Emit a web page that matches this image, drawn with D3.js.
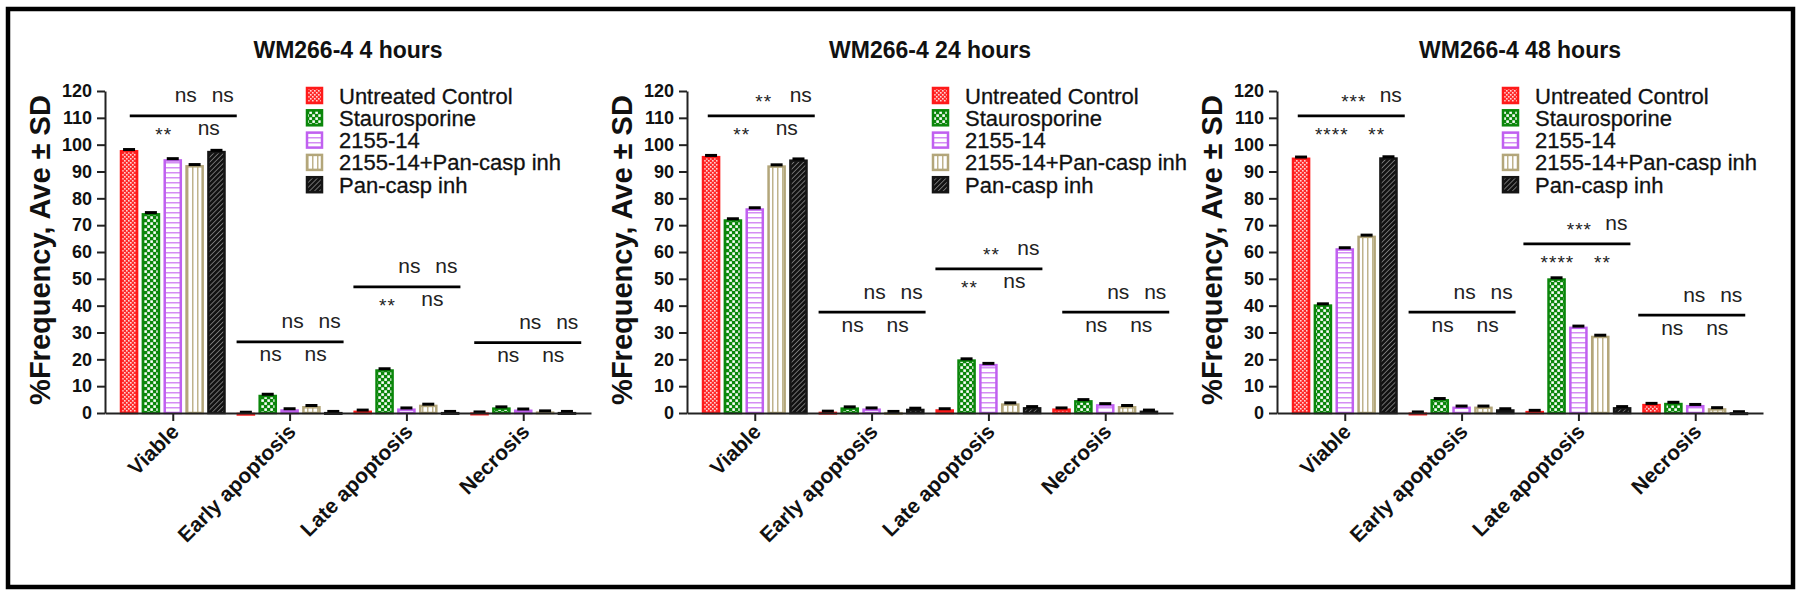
<!DOCTYPE html>
<html><head><meta charset="utf-8">
<script src="https://cdn.jsdelivr.net/npm/d3@7"></script>
<style>
html,body{margin:0;padding:0;background:#fff;}
svg{display:block;}
text{font-family:"Liberation Sans",Arial,Helvetica,sans-serif;}
</style></head><body>
<svg id="chart" width="1800" height="595"></svg>
<script>
// ---------- DATA ----------
const categories = ["Viable", "Early apoptosis", "Late apoptosis", "Necrosis"];
const seriesNames = ["Untreated Control", "Staurosporine", "2155-14", "2155-14+Pan-casp inh", "Pan-casp inh"];
const panelTitles = ["WM266-4 4 hours", "WM266-4 24 hours", "WM266-4 48 hours"];
const yTicks = [0, 10, 20, 30, 40, 50, 60, 70, 80, 90, 100, 110, 120];
const yLabel = "%Frequency, Ave \u00b1 SD";

// values[series][category]
const values4h = [
  [98.0, 0.1, 0.9, 0.2],
  [74.5, 6.8, 16.3, 2.1],
  [94.6, 1.4, 1.7, 1.3],
  [92.4, 2.6, 3.1, 0.6],
  [97.7, 0.4, 0.4, 0.4]
];
const values24h = [
  [95.8, 0.5, 1.4, 1.7],
  [72.2, 2.1, 20.0, 4.8],
  [76.3, 1.7, 18.3, 3.3],
  [92.3, 0.4, 3.6, 2.6],
  [94.5, 1.6, 2.2, 0.9]
];
const values48h = [
  [95.2, 0.2, 0.8, 3.4],
  [40.5, 5.2, 50.2, 3.8],
  [61.4, 2.4, 32.2, 3.0],
  [66.1, 2.4, 28.8, 1.8],
  [95.3, 1.4, 2.2, 0.3]
];

// significance bracket levels (in % units) and labels per category
const sigLevels4h = [110.7, 26.5, 47.0, 26.2];
const sigLevels24h = [110.7, 37.6, 53.7, 37.6];
const sigLevels48h = [110.7, 37.6, 63.0, 36.5];
const sigAbove4h = [["ns", "ns"], ["ns", "ns"], ["ns", "ns"], ["ns", "ns"]];
const sigBelow4h = [["**", "ns"], ["ns", "ns"], ["**", "ns"], ["ns", "ns"]];
const sigAbove24h = [["**", "ns"], ["ns", "ns"], ["**", "ns"], ["ns", "ns"]];
const sigBelow24h = [["**", "ns"], ["ns", "ns"], ["**", "ns"], ["ns", "ns"]];
const sigAbove48h = [["***", "ns"], ["ns", "ns"], ["***", "ns"], ["ns", "ns"]];
const sigBelow48h = [["****", "**"], ["ns", "ns"], ["****", "**"], ["ns", "ns"]];

// ---------- LAYOUT / STYLE ----------
const panels = [
  {title: panelTitles[0], values: values4h, levels: sigLevels4h, above: sigAbove4h, below: sigBelow4h,
   x0: 105, legendX: 306, shift: [10, 0, 0, 4]},
  {title: panelTitles[1], values: values24h, levels: sigLevels24h, above: sigAbove24h, below: sigBelow24h,
   x0: 687, legendX: 932, shift: [6, 0, 0, 10]},
  {title: panelTitles[2], values: values48h, levels: sigLevels48h, above: sigAbove48h, below: sigBelow48h,
   x0: 1277, legendX: 1502, shift: [6, 0, -2, -4]}
];
const axisW = 486, yTop = 91, yBot = 413;
const legendY0 = 95.5, legendRow = 22.3;
const strokeCols = ["#ff1a1a", "#0b870b", "#c060f0", "#b3a67a", "#151515"];

const svg = d3.select("#chart");
const defs = svg.append("defs");

// patterns
(function makePatterns() {
  let p = defs.append("pattern").attr("id", "pat0").attr("patternUnits", "userSpaceOnUse").attr("width", 4).attr("height", 4);
  p.append("rect").attr("width", 4).attr("height", 4).attr("fill", "#ff2a2a");
  p.append("rect").attr("x", 0).attr("y", 0).attr("width", 1.6).attr("height", 1.6).attr("fill", "#ffd6d6");
  p.append("rect").attr("x", 2).attr("y", 2).attr("width", 1.6).attr("height", 1.6).attr("fill", "#ffd6d6");

  p = defs.append("pattern").attr("id", "pat1").attr("patternUnits", "userSpaceOnUse").attr("width", 6).attr("height", 6);
  p.append("rect").attr("width", 6).attr("height", 6).attr("fill", "#0b870b");
  p.append("rect").attr("x", 0.3).attr("y", 0.3).attr("width", 2.6).attr("height", 2.6).attr("fill", "#fff");
  p.append("rect").attr("x", 3.3).attr("y", 3.3).attr("width", 2.6).attr("height", 2.6).attr("fill", "#fff");

  p = defs.append("pattern").attr("id", "pat2").attr("patternUnits", "userSpaceOnUse").attr("width", 6).attr("height", 5);
  p.append("rect").attr("width", 6).attr("height", 5).attr("fill", "#fff");
  p.append("rect").attr("x", 0).attr("y", 2).attr("width", 6).attr("height", 1.5).attr("fill", "#d48ef4");

  p = defs.append("pattern").attr("id", "pat3").attr("patternUnits", "userSpaceOnUse").attr("width", 5).attr("height", 6);
  p.append("rect").attr("width", 5).attr("height", 6).attr("fill", "#fff");
  p.append("rect").attr("x", 2).attr("y", 0).attr("width", 1.5).attr("height", 6).attr("fill", "#bfb38c");

  p = defs.append("pattern").attr("id", "pat4").attr("patternUnits", "userSpaceOnUse").attr("width", 3.5).attr("height", 3.5)
    .attr("patternTransform", "rotate(45)");
  p.append("rect").attr("width", 3.5).attr("height", 3.5).attr("fill", "#111");
  p.append("rect").attr("x", 0).attr("y", 0).attr("width", 0.9).attr("height", 3.5).attr("fill", "#7a7a7a");
})();

// outer frame
svg.append("rect").attr("x", 8).attr("y", 9).attr("width", 1785).attr("height", 578)
  .attr("fill", "none").attr("stroke", "#000").attr("stroke-width", 4.5);

const y = d3.scaleLinear().domain([0, 120]).range([yBot, yTop]);

panels.forEach((P) => {
  const g = svg.append("g");
  const x = d3.scalePoint().domain(categories).range([P.x0, P.x0 + axisW]).padding(0.58);
  const xs = d3.scaleBand().domain(seriesNames).range([-53, 53]).paddingInner(0.15).paddingOuter(0);
  const bw = xs.bandwidth();

  // title
  g.append("text").attr("x", P.x0 + axisW / 2).attr("y", 58).attr("text-anchor", "middle")
    .attr("font-size", 23).attr("font-weight", "bold").attr("fill", "#111").text(P.title);

  // y label
  g.append("text").attr("transform", `translate(${P.x0 - 55},${(yTop + yBot) / 2 - 2}) rotate(-90)`)
    .attr("text-anchor", "middle").attr("font-size", 29).attr("font-weight", "bold").attr("fill", "#111").text(yLabel);

  // bars
  const sw = 2.5;
  seriesNames.forEach((s, si) => {
    const vals = P.values[si];
    g.append("g").selectAll("rect").data(categories).join("rect")
      .attr("x", (c) => x(c) + xs(s) + sw / 2)
      .attr("y", (c, ci) => y(vals[ci]) + sw / 2)
      .attr("width", bw - sw)
      .attr("height", (c, ci) => Math.max(0.5, y(0) - y(vals[ci]) - sw / 2))
      .attr("fill", `url(#pat${si})`)
      .attr("stroke", strokeCols[si]).attr("stroke-width", sw);
    // error caps
    g.append("g").selectAll("line").data(categories).join("line")
      .attr("x1", (c) => x(c) + xs(s) + bw / 2 - 6)
      .attr("x2", (c) => x(c) + xs(s) + bw / 2 + 6)
      .attr("y1", (c, ci) => y(vals[ci]) - 0.5)
      .attr("y2", (c, ci) => y(vals[ci]) - 0.5)
      .attr("stroke", "#000").attr("stroke-width", 3);
  });

  // y axis
  const ya = g.append("g").attr("transform", `translate(${P.x0},0)`)
    .call(d3.axisLeft(y).tickValues(yTicks).tickSize(8).tickSizeOuter(0).tickPadding(5));
  ya.select(".domain").attr("stroke", "#222").attr("stroke-width", 2);
  ya.selectAll(".tick line").attr("stroke", "#222").attr("stroke-width", 2);
  ya.selectAll(".tick text").attr("font-size", 18).attr("font-weight", "bold").attr("fill", "#111")
    .attr("font-family", "'Liberation Sans', Arial, sans-serif");

  // x axis
  const xa = g.append("g").attr("transform", `translate(0,${yBot})`)
    .call(d3.axisBottom(x).tickSize(8).tickSizeOuter(0));
  xa.select(".domain").attr("stroke", "#222").attr("stroke-width", 2);
  xa.selectAll(".tick line").attr("stroke", "#222").attr("stroke-width", 2);
  xa.selectAll(".tick text").attr("font-size", 21).attr("font-weight", "bold").attr("fill", "#111")
    .attr("font-family", "'Liberation Sans', Arial, sans-serif")
    .attr("text-anchor", "end").attr("dy", null).attr("y", null)
    .attr("transform", "translate(7,20) rotate(-45)");

  // significance brackets
  categories.forEach((c, ci) => {
    const cx = x(c) + P.shift[ci];
    const ly = y(P.levels[ci]);
    g.append("line").attr("x1", cx - 53).attr("x2", cx + 54).attr("y1", ly).attr("y2", ly)
      .attr("stroke", "#000").attr("stroke-width", 2.8);
    const place = (txt, tx, centerY) => {
      const star = txt.indexOf("*") >= 0;
      g.append("text").attr("x", tx).attr("y", star ? centerY + 11 : centerY + 5.5)
        .attr("text-anchor", "middle").attr("font-size", star ? 19 : 21)
        .attr("letter-spacing", star ? 1 : 0)
        .attr("fill", "#222").text(txt);
    };
    place(P.above[ci][0], cx + 3, ly - 19);
    place(P.above[ci][1], cx + 40, ly - 19);
    place(P.below[ci][0], cx - 19, ly + 14);
    place(P.below[ci][1], cx + 26, ly + 14);
  });

  // legend
  const lg = g.append("g");
  seriesNames.forEach((s, si) => {
    const cy = legendY0 + si * legendRow;
    lg.append("rect").attr("x", P.legendX + 1).attr("y", cy - 7.5).attr("width", 15).attr("height", 15)
      .attr("fill", `url(#pat${si})`).attr("stroke", strokeCols[si]).attr("stroke-width", 2.5);
    lg.append("text").attr("x", P.legendX + 33).attr("y", cy + 8).attr("font-size", 22)
      .attr("fill", "#111").attr("stroke", "#111").attr("stroke-width", 0.3).text(s);
  });
});
</script>
</body></html>
